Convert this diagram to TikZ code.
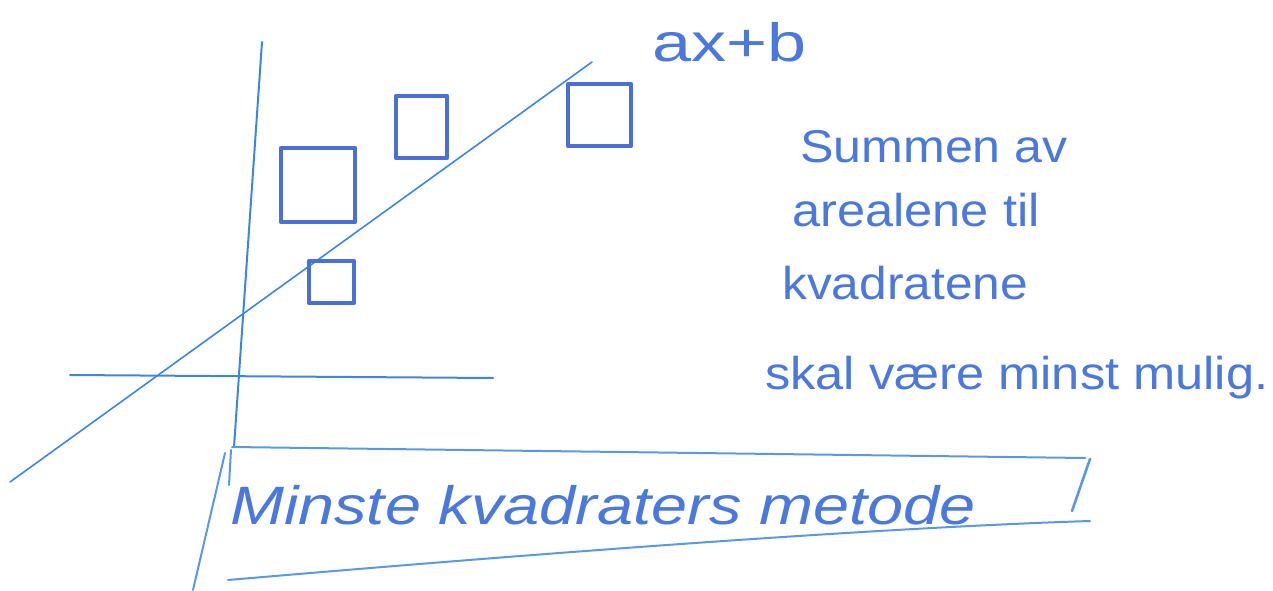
\documentclass[tikz,border=0pt]{standalone}
\usepackage{fontspec}
\setmainfont{Liberation Sans}
\definecolor{pen}{HTML}{3D86E0}
\definecolor{ink}{HTML}{4A78DC}
\definecolor{boxink}{HTML}{4A6FD6}
\tikzset{
  axisline/.style={draw=pen, line width=2pt, line cap=round},
  sqbox/.style={draw=boxink, line width=4.5pt, line join=round},
  frameline/.style={draw=pen!85, line width=2pt, line cap=round},
  hand/.style={text=ink, inner sep=0pt, anchor=west},
  bodytext/.style={hand, font=\fontsize{46}{50}\selectfont},
}
\begin{document}
\begin{tikzpicture}[x=1pt,y=-1pt]
\useasboundingbox (0,0) rectangle (1273,591);
% axes
\draw[axisline] (262,42) -- (234,447);
\draw[axisline] (70,375) -- (493,378);
% regression line
\draw[axisline, line width=1.6pt] (10,482) -- (592,62);
% squares
\draw[sqbox] (281,148) rectangle (355,222);
\draw[sqbox] (396,96) rectangle (447,158);
\draw[sqbox] (568,84) rectangle (631,146);
\draw[sqbox] (309,261) rectangle (354,303);
% label of line
\node[hand, font=\fontsize{54}{58}\selectfont] (lbl) at (652,42) {\scalebox{1.3}[1]{ax+b}};
% explanation text
\node[bodytext] (t1) at (800,147) {\scalebox{1.09}[1]{Summen av}};
\node[bodytext] (t2) at (792,210) {\scalebox{1.1}[1]{arealene til}};
\node[bodytext] (t3) at (782,283) {\scalebox{1.08}[1]{kvadratene}};
\node[bodytext] (t4) at (765,378) {\scalebox{1.1}[1]{skal være minst mulig.}};
% title frame
\draw[frameline] (232,447) -- (1085,458);
\draw[frameline] (231,450) -- (229,485);
\draw[frameline] (225,453) -- (193,590);
\draw[frameline] (228,580) .. controls (600,548) and (900,527) .. (1090,521);
\draw[frameline, line width=2.6pt] (1090,459) -- (1072,511);
\node[hand, font=\fontsize{54}{58}\itshape] (title) at (230,505) {\scalebox{1.2}[1]{Minste kvadraters metode}};
\end{tikzpicture}
\end{document}
